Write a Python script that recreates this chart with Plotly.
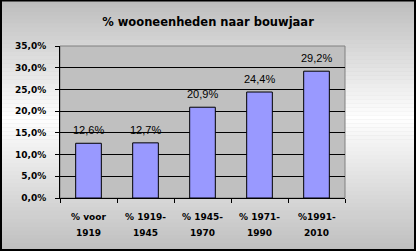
import plotly.graph_objects as go

categories = ["% voor<br>1919", "% 1919-<br>1945", "% 1945-<br>1970", "% 1971-<br>1990", "%1991-<br>2010"]
values = [12.6, 12.7, 20.9, 24.4, 29.2]
labels = [f"{v:.1f}".replace(".", ",") + "%" for v in values]
title = "% wooneenheden naar bouwjaar"

W, H = 416, 251
L, R, T, B = 60, 71, 46, 53
pw, ph = W - L - R, H - T - B

def px2x(px):
    return (px - L) / pw

def py2y(py):
    return (H - B - py) / ph

fig = go.Figure()
fig.add_trace(go.Bar(
    x=categories, y=values, width=0.45,
    marker=dict(color="#9999ff", line=dict(color="black", width=1)),
    hoverinfo="skip",
))

shapes = []
# vertical gradient background
n = 63
for i in range(n):
    y0p = H * i / n
    y1p = H * (i + 1) / n
    yc = (y0p + y1p) / 2
    if yc < 118:
        c = 188 + (255 - 188) * yc / 118
    else:
        c = 255 - (255 - 190) * (yc - 118) / (H - 118)
    c = int(round(c))
    shapes.append(dict(type="rect", xref="paper", yref="paper", layer="below",
                       x0=px2x(0), x1=px2x(W), y0=py2y(y1p), y1=py2y(y0p) + 0.002,
                       fillcolor=f"rgb({c},{c},{c})", line=dict(width=0)))
# plot area
shapes.append(dict(type="rect", xref="paper", yref="paper", layer="below",
                   x0=0, x1=1, y0=0, y1=1, fillcolor="#c0c0c0",
                   line=dict(color="#808080", width=1)))
# outer border
shapes.append(dict(type="rect", xref="paper", yref="paper", layer="above",
                   x0=px2x(1), x1=px2x(W - 1), y0=py2y(H - 1), y1=py2y(0.5),
                   fillcolor="rgba(0,0,0,0)", line=dict(color="black", width=2)))

annotations = [dict(x=c, y=v, text=t, showarrow=False, yanchor="bottom", yshift=5,
                    font=dict(family="Liberation Sans, Arial", size=11, color="black"))
               for c, v, t in zip(categories, values, labels)]

# category labels (two rows, Excel-like line spacing)
tick_font = dict(family="DejaVu Sans", size=9, color="black", weight="bold")
for c in categories:
    parts = c.split("<br>")
    for row, (part, py) in enumerate(zip(parts, [217, 233])):
        annotations.append(dict(x=c, xref="x", y=py2y(py), yref="paper", text=part,
                                showarrow=False, xanchor="center", yanchor="middle",
                                font=tick_font))

fig.update_layout(
    width=W, height=H,
    margin=dict(l=L, r=R, t=T, b=B, pad=0),
    paper_bgcolor="#c8c8c8",
    plot_bgcolor="rgba(0,0,0,0)",
    separators=",.",
    showlegend=False,
    bargap=0.55,
    title=dict(text="<b>" + title + "</b>", x=0.5, xanchor="center",
               y=1 - 22 / H, yanchor="middle", yref="container",
               font=dict(family="DejaVu Sans", size=11.5, color="black")),
    shapes=shapes,
    annotations=annotations,
    xaxis=dict(
        tickson="boundaries", ticks="outside", ticklen=4, tickcolor="black",
        showline=True, linecolor="black", linewidth=1, showgrid=False,
        showticklabels=False,
        fixedrange=True,
    ),
    yaxis=dict(
        range=[0, 35], dtick=5, tick0=0, tickformat=".1f", ticksuffix="%",
        ticks="outside", ticklen=4, tickcolor="black",
        showline=True, linecolor="black", linewidth=1,
        showgrid=True, gridcolor="black", gridwidth=1, zeroline=False,
        ticklabelstandoff=7,
        tickfont=tick_font,
        fixedrange=True,
    ),
)

fig.write_html("out.html", config={"displayModeBar": False})
